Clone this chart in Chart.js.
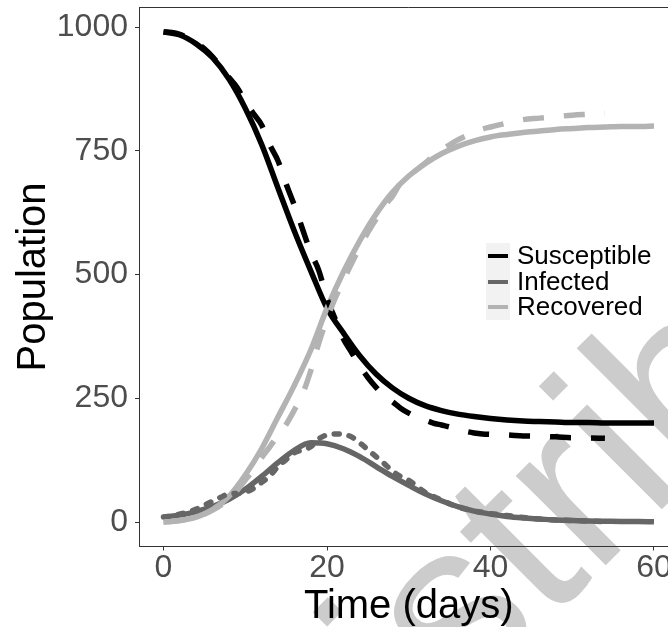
<!DOCTYPE html>
<html>
<head>
<meta charset="utf-8">
<title>SIR model</title>
<script src="https://cdn.jsdelivr.net/npm/chart.js@4.4.0/dist/chart.umd.min.js"></script>
<style>
body{margin:0;background:#fff;overflow:hidden}
#wrap{position:relative;width:668px;height:627px;overflow:hidden}
#myChart{position:absolute;left:0;top:0}
#legend{position:absolute;left:486px;top:243px;font-family:"Liberation Sans",Arial,sans-serif;font-size:26px;color:#000}
.row{display:flex;align-items:center;height:25.67px;line-height:25.67px}
.key{width:24px;height:25.67px;background:#f2f2f2;position:relative}
.key span{position:absolute;left:2px;top:11px;width:20px;height:4px}
.lab{margin-left:7px;white-space:nowrap}
</style>
</head>
<body>
<div id="wrap">
<canvas id="myChart" width="700" height="627"></canvas>
<div id="legend"></div>
</div>
<script>
// series
const seriesNames=['Susceptible','Infected','Recovered']
const seriesColors=['#000000','#666666','#b3b3b3']

// deterministic model (solid lines)
const tModel=[0,2,4,6,8,10,12,14,16,18,20,22,24,26,28,30,32,34,36,38,40,42,44,46,48,50,52,54,56,58,60]
const susModel=[990,984,966,938,895,836,763,675,588,508,432,382,336,299,271,250,235,225,218,213,209,206,204,203,202,201,201,200,200,200,200]
const infModel=[10,14,21,31,46,66,92,120,145,160,158,148,132,112,92,74,57,43,31,22,16,11,8,6,4,3,2,1.5,1,1,0.5]
const recModel=[0,3,10,25,52,95,148,212,276,347,432,505,568,622,666,699,724,744,759,770,778,783,787,790,793,795,797,798,799,799,800]

// stochastic run (dashed lines)
const tSim=[0,1,2,3,4,5,6,7,8,9,10,11,12,13,14,15,16,17,18,19,20,21,22,23,24,25,26,27,28,29,30,31,32,33,34,35,36,37,38,39,40,42,44,46,48,50,52,54]
const susSim=[990,989,985,978,969,956,940,920,898,878,850,825,802,762,730,683,640,592,545,508,452,410,370,343,315,292,272,255,243,230,220,212,206,200,196,192,187,183,180,178,177,176,174,173,172,170,170,169]
const infSim=[10,12,16,20,26,34,42,50,57,58,60,68,80,93,112,126,140,146,152,168,176,178,177,172,160,146,132,118,103,92,84,72,60,52,44,37,30,26,22,20,17,13,9,6,4,3,2,1]
const recSim=[0,1,3,6,10,16,24,34,47,64,85,105,130,152,175,197,226,258,305,362,410,452,488,522,555,585,612,638,658,685,700,712,725,740,752,762,772,780,788,794,798,806,813,816,819,822,824,826]

const xTicks=[0,20,40,60]
const yTicks=[0,250,500,750,1000]

function pts(xs,ys){return xs.map((x,i)=>({x:x,y:ys[i]}))}

const modelVals=[susModel,infModel,recModel]
const simVals=[susSim,infSim,recSim]
let datasets=[]
for(let i=0;i<3;i++){
  datasets.push({
    label:seriesNames[i],
    data:pts(tModel,modelVals[i]),
    borderColor:seriesColors[i],
    borderWidth:5.5,
    pointRadius:0,
    cubicInterpolationMode:'monotone',
    borderJoinStyle:'round',
    order:6-i
  })
}
for(let i=0;i<3;i++){
  datasets.push({
    label:seriesNames[i]+' (sim)',
    data:pts(tSim,simVals[i]),
    borderColor:seriesColors[i],
    borderWidth:5.5,
    pointRadius:0,
    cubicInterpolationMode:'monotone',
    borderDash:i==1?[5,10]:[21,20],
    borderCapStyle:i==1?'round':'butt',
    order:3-i
  })
}

const watermark={
  id:'watermark',
  beforeDraw(chart){
    const ctx=chart.ctx
    ctx.save()
    ctx.translate(330,841)
    ctx.rotate(-Math.PI/4)
    ctx.font='240px "Liberation Sans", Arial, sans-serif'
    ctx.fillStyle='#cccccc'
    ctx.textBaseline='alphabetic'
    ctx.fillText('distribute',0,0)
    ctx.restore()
  }
}

const panelTop={
  id:'panelTop',
  afterDraw(chart){
    const a=chart.chartArea, ctx=chart.ctx
    ctx.save()
    ctx.strokeStyle='#333333'
    ctx.lineWidth=1
    ctx.beginPath()
    ctx.moveTo(a.left,Math.floor(a.top)+0.5)
    ctx.lineTo(a.right,Math.floor(a.top)+0.5)
    ctx.lineTo(a.right,a.bottom)
    ctx.stroke()
    ctx.restore()
  }
}

const font='"Liberation Sans", Arial, sans-serif'
const ctx=document.getElementById('myChart')

new Chart(ctx,{
  type:'line',
  data:{datasets:datasets},
  plugins:[watermark,panelTop],
  options:{
    responsive:false,
    animation:false,
    layout:{padding:{top:7.5,right:21.5,left:0,bottom:0}},
    plugins:{legend:{display:false},tooltip:{enabled:false}},
    scales:{
      x:{
        type:'linear',min:-3,max:63,
        afterBuildTicks(s){s.ticks=xTicks.map(v=>({value:v}))},
        afterFit(s){s.height=80.5;s.paddingLeft=0;s.paddingRight=0},
        grid:{drawOnChartArea:false,drawTicks:true,tickLength:4,tickColor:'#333333'},
        border:{display:true,color:'#333333',width:1},
        ticks:{color:'#4d4d4d',font:{family:font,size:32,lineHeight:1},padding:2,maxRotation:0,callback:v=>String(v)},
        title:{display:true,text:'Time (days)',color:'#000',font:{family:font,size:40,lineHeight:1},padding:{top:0,bottom:0}}
      },
      y:{
        type:'linear',min:-49.5,max:1039.5,
        afterBuildTicks(s){s.ticks=yTicks.map(v=>({value:v}))},
        afterFit(s){s.width=139;s.paddingTop=0;s.paddingBottom=0},
        grid:{drawOnChartArea:false,drawTicks:true,tickLength:4,tickColor:'#333333'},
        border:{display:true,color:'#333333',width:1},
        ticks:{color:'#4d4d4d',font:{family:font,size:32,lineHeight:1},padding:7,callback:v=>String(v)},
        title:{display:true,text:'Population',color:'#000',font:{family:font,size:40,lineHeight:1},padding:{top:14,bottom:0}}
      }
    }
  }
})

// legend
const leg=document.getElementById('legend')
seriesNames.forEach((n,i)=>{
  const r=document.createElement('div')
  r.className='row'
  r.innerHTML='<div class="key"><span style="background:'+seriesColors[i]+'"></span></div><div class="lab">'+n+'</div>'
  leg.appendChild(r)
})
</script>
</body>
</html>
